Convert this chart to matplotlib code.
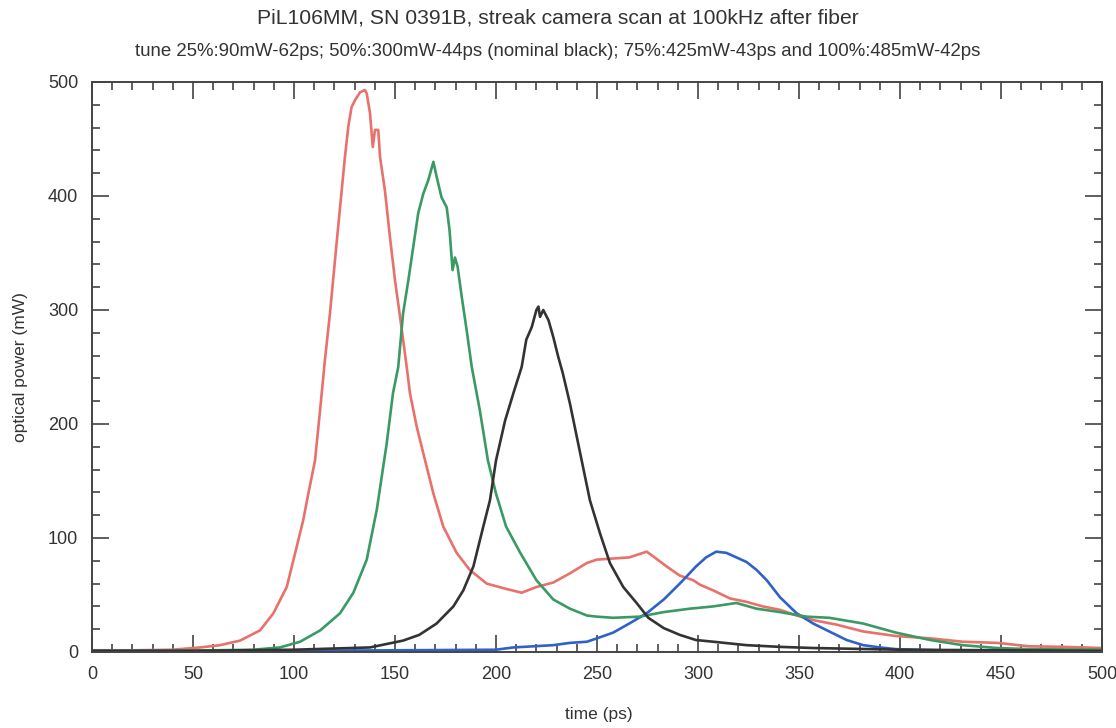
import matplotlib
matplotlib.use("Agg")
import matplotlib.pyplot as plt
from matplotlib.ticker import MultipleLocator

plt.rcParams['font.family'] = ['Liberation Sans', 'DejaVu Sans']

title = "PiL106MM, SN 0391B, streak camera scan at 100kHz after fiber"
subtitle = "tune 25%:90mW-62ps; 50%:300mW-44ps (nominal black); 75%:425mW-43ps and 100%:485mW-42ps"
xlabel = "time (ps)"
ylabel = "optical power (mW)"

red_t = [0, 20, 40, 53.5, 63.4, 73.3, 83.2, 89.8, 96.4, 101.3, 104.6, 107.1, 110.4, 112.9, 115.3,
         117.8, 121.1, 122.8, 125.2, 126.9, 128.5, 130.2, 132.7, 135.1, 136, 137.6, 139, 140.1, 141.7,
         142.6, 145, 147.5, 150, 152.5, 155.8, 157.4, 160.7, 164.9, 169, 173.9, 180.5, 187, 195.4,
         203.6, 212.7, 220, 228.4, 236.6, 244.9, 249.8, 258, 266, 274.6, 277, 284.5, 291, 297.6, 301,
         307.6, 315.8, 324, 332, 340.6, 348.8, 357, 368.6, 381.8, 398, 414.9, 431, 448, 464, 481, 500]
red_p = [1.5, 1.5, 2, 4, 6, 10, 19, 34, 57, 92, 116, 139, 168, 212, 256,
         297, 359, 390, 434, 461, 478, 484, 491, 493, 490, 473, 443, 458, 458,
         434, 405, 364, 326, 294, 250, 227, 198, 168, 139, 110, 87, 72, 60,
         56, 52, 57, 61, 69, 78, 81, 82, 83, 88, 85, 75, 67, 63, 59,
         54, 47, 44, 40, 37, 32, 28, 24, 18, 14, 12, 9, 8, 5, 4.5, 3.5]

green_t = [0, 40, 80, 93, 103, 113, 122.8, 129.4, 136, 141, 145.9, 149, 151.6, 154, 156.6, 159,
           161.5, 164, 166.5, 169, 170.6, 173, 175.6, 177, 178.5, 179.7, 181, 183, 185.5, 188, 192,
           196, 200, 205, 212, 220, 228.4, 236.6, 245, 250, 258, 271, 283, 296, 307.6, 319, 329,
           340.6, 353.8, 365, 381.7, 398, 415, 431, 448, 464, 500]
green_p = [1, 1, 2, 4, 9, 19, 34, 52, 81, 125, 183, 227, 250, 297, 326, 355,
           385, 402, 414, 430, 417, 399, 390, 370, 335, 346, 338, 312, 282, 250, 212,
           168, 139, 110, 87, 63, 46, 38, 32, 31, 30, 31, 35, 38, 40, 43, 38,
           35, 31, 30, 25, 17, 10.5, 6, 3.5, 2.5, 2]

black_t = [0, 50, 100, 137.6, 154, 162, 170.6, 178.9, 183.8, 188.8, 193.7, 197, 200, 204.5, 208.6,
           212.7, 215, 217.7, 220, 221, 221.8, 223.4, 226, 228.4, 230.8, 233, 236.6, 241.6, 246.5,
           251.5, 256.4, 263, 269.6, 275.4, 283, 291, 299, 307.6, 324, 340.6, 357, 400, 450, 500]
black_p = [1, 1, 2, 4, 10, 15, 25, 40, 54, 75, 110, 133, 168, 203, 227,
           250, 274, 285, 300, 303, 294, 300, 291, 276, 259, 245, 218, 175, 133,
           104, 78, 57, 43, 30, 21, 15, 10.5, 9, 6, 4.5, 3.5, 2, 1.5, 1]

blue_t = [0, 100, 200, 208.6, 228.4, 236.6, 245, 250, 258, 266, 274.6, 283, 291, 299, 304, 309,
          314, 319, 324, 329, 334, 340.6, 348.8, 357, 365, 373.6, 381.8, 390, 398, 430, 500]
blue_p = [1, 1, 2, 4, 6, 8, 9, 12, 17, 25, 34, 46, 60, 75, 83, 88,
          87, 83, 79, 72, 63, 48, 34, 25, 18, 10.5, 6, 4, 2.5, 1, 0.5]

fig = plt.figure(figsize=(11.16, 7.28), dpi=100)
ax = fig.add_axes([92/1116, 76/728, (1102-92)/1116, (652-82)/728])

lw = 1.9
ax.plot(red_t, red_p, color='#e8716b', lw=lw)
ax.plot(blue_t, blue_p, color='#2f62c8', lw=lw)
ax.plot(green_t, green_p, color='#3a9a64', lw=lw)
ax.plot(black_t, black_p, color='#333333', lw=lw)

ax.set_xlim(0, 500)
ax.set_ylim(0, 500)
ax.xaxis.set_major_locator(MultipleLocator(50))
ax.xaxis.set_minor_locator(MultipleLocator(10))
ax.yaxis.set_major_locator(MultipleLocator(100))
ax.yaxis.set_minor_locator(MultipleLocator(20))
ax.tick_params(which='both', direction='in', top=True, right=True, color='#333333', width=1.1,
               labelsize=13, labelcolor='#333333')
ax.tick_params(which='major', length=12, pad=10)
ax.tick_params(which='minor', length=6)
for s in ax.spines.values():
    s.set_color('#444444')
    s.set_linewidth(1.4)

ax.set_xlabel(xlabel, fontsize=12.5, color='#333333', labelpad=14)
ax.set_ylabel(ylabel, fontsize=12.5, color='#333333', labelpad=14)
ax.xaxis.set_label_coords(0.502, -0.097)

fig.text(0.5, 1 - 18/728, title, ha='center', va='center', fontsize=15.2, color='#333333')
fig.text(0.5, 1 - 52/728, subtitle, ha='center', va='center', fontsize=13.4, color='#333333')

fig.savefig('out.png', dpi=100, facecolor='white')
